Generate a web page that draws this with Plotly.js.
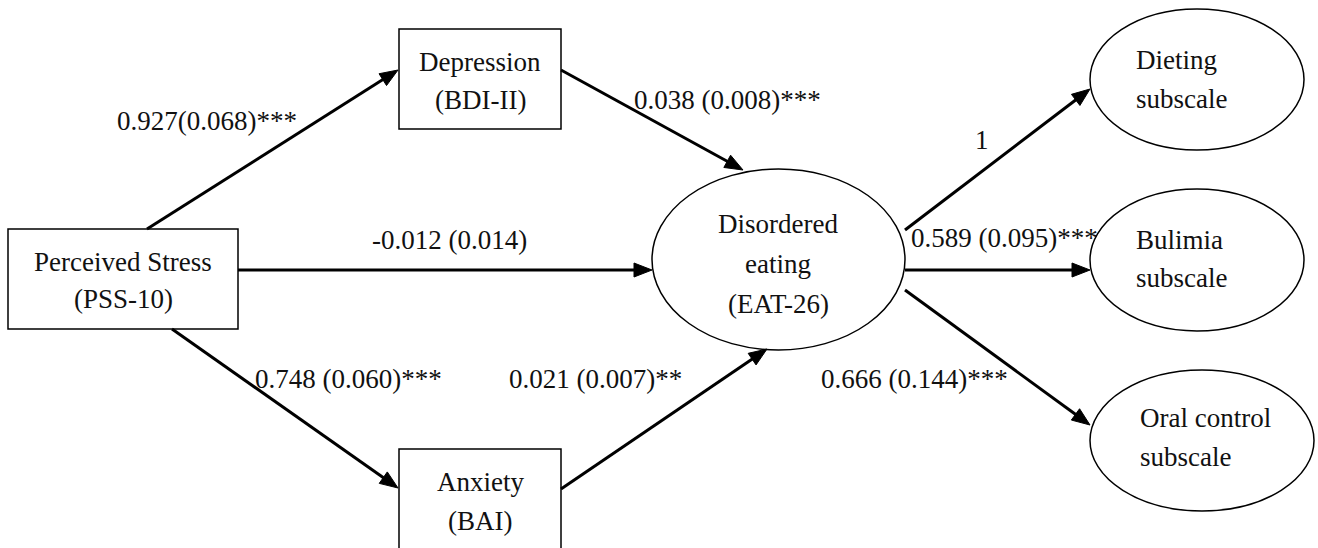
<!DOCTYPE html>
<html>
<head>
<meta charset="utf-8">
<script src="https://cdn.plot.ly/plotly-3.0.1.min.js"></script>
<style>html,body{margin:0;padding:0;background:#fff;}#chart{width:1318px;height:548px;}</style>
</head>
<body>
<div id="chart"></div>
<script>
// ---------- DATA ----------
const nodeIds = ["PSS", "BDI", "BAI", "EAT", "DIET", "BUL", "ORAL"];
const nodeLabels = [
  ["Perceived Stress", "(PSS-10)"],
  ["Depression", "(BDI-II)"],
  ["Anxiety", "(BAI)"],
  ["Disordered", "eating", "(EAT-26)"],
  ["Dieting", "subscale"],
  ["Bulimia", "subscale"],
  ["Oral control", "subscale"]
];
const nodeKinds = ["observed", "observed", "observed", "latent", "latent", "latent", "latent"];

const pathFrom = ["PSS", "PSS", "PSS", "BDI", "BAI", "EAT", "EAT", "EAT"];
const pathTo   = ["BDI", "EAT", "BAI", "EAT", "EAT", "DIET", "BUL", "ORAL"];
const pathLabels = [
  "0.927(0.068)***",
  "-0.012 (0.014)",
  "0.748 (0.060)***",
  "0.038 (0.008)***",
  "0.021 (0.007)**",
  "1",
  "0.589 (0.095)***",
  "0.666 (0.144)***"
];

// ---------- LAYOUT GEOMETRY (pixel space) ----------
const nodeGeom = {
  PSS:  {x0: 8,    x1: 238,  y0: 229, y1: 329, tx: 123,  align: "center", ty: [262, 299]},
  BDI:  {x0: 399,  x1: 561,  y0: 29,  y1: 129, tx: 480,  align: "center", ty: [62, 100]},
  BAI:  {x0: 399,  x1: 561,  y0: 449, y1: 570, tx: 480,  align: "center", ty: [482, 521]},
  EAT:  {x0: 652,  x1: 905,  y0: 169, y1: 350, tx: 778,  align: "center", ty: [224, 264, 304]},
  DIET: {x0: 1090, x1: 1304, y0: 9,   y1: 150, tx: 1134, align: "left",   ty: [60, 99]},
  BUL:  {x0: 1090, x1: 1304, y0: 189, y1: 331, tx: 1134, align: "left",   ty: [240, 278]},
  ORAL: {x0: 1090, x1: 1314, y0: 370, y1: 511, tx: 1138, align: "left",   ty: [418, 457]}
};
const pathGeom = [
  {sx: 147, sy: 229, ex: 398,  ey: 70,  lx: 207,  ly: 121},
  {sx: 238, sy: 270, ex: 652,  ey: 270, lx: 449,  ly: 240},
  {sx: 172, sy: 329, ex: 398,  ey: 488, lx: 348,  ly: 379},
  {sx: 561, sy: 70,  ex: 743,  ey: 170, lx: 727,  ly: 100},
  {sx: 561, sy: 489, ex: 767,  ey: 349, lx: 595,  ly: 379},
  {sx: 905, sy: 230, ex: 1090, ey: 89,  lx: 982,  ly: 140},
  {sx: 905, sy: 270, ex: 1090, ey: 270, lx: 1004, ly: 238},
  {sx: 905, sy: 290, ex: 1090, ey: 425, lx: 914,  ly: 379}
];

const FONT = {family: "Liberation Serif", size: 27, color: "#111"};
const HEAD_LEN = 18, HEAD_HALF = 7, LINE_W = 3;

const shapes = [];
const annotations = [];

// nodes
nodeIds.forEach((id, i) => {
  const g = nodeGeom[id];
  shapes.push({
    type: nodeKinds[i] === "observed" ? "rect" : "circle",
    xref: "x", yref: "y",
    x0: g.x0, x1: g.x1, y0: g.y0, y1: g.y1,
    line: {color: "#000", width: 1.5},
    fillcolor: "rgba(0,0,0,0)"
  });
  nodeLabels[i].forEach((t, k) => {
    annotations.push({
      xref: "x", yref: "y", x: g.tx, y: g.ty[k],
      text: t, showarrow: false,
      xanchor: g.align, yanchor: "middle",
      font: FONT
    });
  });
});

// paths
pathFrom.forEach((f, i) => {
  const p = pathGeom[i];
  const dx = p.ex - p.sx, dy = p.ey - p.sy;
  const L = Math.sqrt(dx * dx + dy * dy);
  const ux = dx / L, uy = dy / L;
  const bx = p.ex - ux * HEAD_LEN, by = p.ey - uy * HEAD_LEN;
  shapes.push({
    type: "line", xref: "x", yref: "y",
    x0: p.sx, y0: p.sy, x1: bx + ux * 2, y1: by + uy * 2,
    line: {color: "#000", width: LINE_W}
  });
  const px = -uy, py = ux;
  shapes.push({
    type: "path", xref: "x", yref: "y",
    path: `M${p.ex},${p.ey} L${bx + px * HEAD_HALF},${by + py * HEAD_HALF} L${bx - px * HEAD_HALF},${by - py * HEAD_HALF} Z`,
    fillcolor: "#000", line: {color: "#000", width: 1}
  });
  annotations.push({
    xref: "x", yref: "y", x: p.lx, y: p.ly,
    text: pathLabels[i], showarrow: false,
    xanchor: "center", yanchor: "middle",
    font: FONT
  });
});

const layout = {
  width: 1318, height: 548,
  margin: {l: 0, r: 0, t: 0, b: 0},
  paper_bgcolor: "#fff", plot_bgcolor: "#fff",
  showlegend: false,
  font: {family: "Liberation Serif"},
  xaxis: {range: [0, 1318], visible: false, fixedrange: true},
  yaxis: {range: [548, 0], visible: false, fixedrange: true},
  shapes: shapes,
  annotations: annotations
};

Plotly.newPlot("chart", [{x: [], y: [], type: "scatter", mode: "markers", hoverinfo: "skip"}], layout, {displayModeBar: false, staticPlot: true});
</script>
</body>
</html>
